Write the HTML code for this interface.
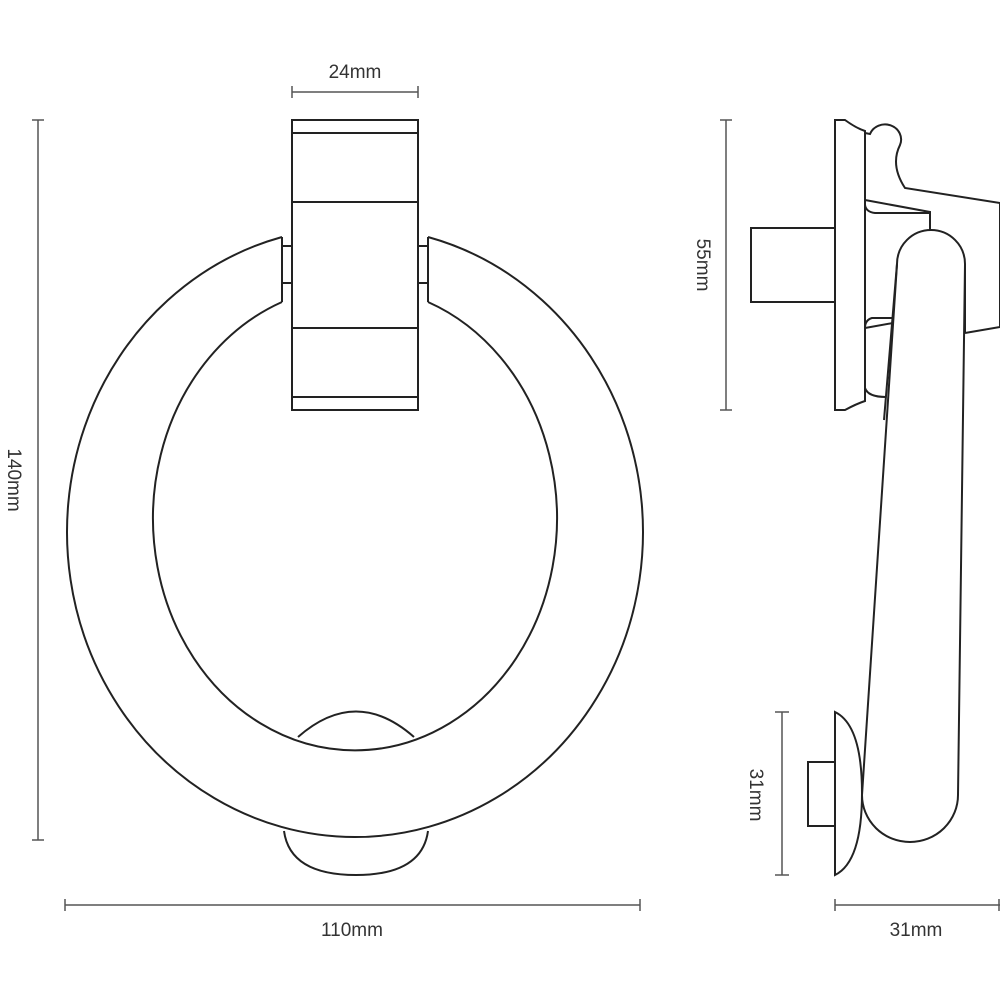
<!DOCTYPE html>
<html><head><style>
html,body{margin:0;padding:0;background:#fff;}
svg{display:block;}
text{font-family:"Liberation Sans",sans-serif;font-size:19px;fill:#333;}
</style></head><body>
<svg width="1000" height="1000" viewBox="0 0 1000 1000" xmlns="http://www.w3.org/2000/svg">
<g fill="none" stroke="#222" stroke-width="2">
  <path d="M282,237 A288,305 0 1,0 428,237"/>
  <path d="M282,302 A202,232 0 1,0 428,302" />
  <line x1="282" y1="237" x2="282" y2="302"/>
  <line x1="428" y1="237" x2="428" y2="302"/>
  <line x1="282" y1="246" x2="292" y2="246"/>
  <line x1="282" y1="283" x2="292" y2="283"/>
  <line x1="418" y1="246" x2="428" y2="246"/>
  <line x1="418" y1="283" x2="428" y2="283"/>
  <rect x="292" y="120" width="126" height="290" fill="#fff"/>
  <line x1="292" y1="133" x2="418" y2="133"/>
  <line x1="292" y1="202" x2="418" y2="202"/>
  <line x1="292" y1="328" x2="418" y2="328"/>
  <line x1="292" y1="397" x2="418" y2="397"/>
  <path d="M298,737 Q356,686 414,737"/>
  <path d="M284,831 Q290,875 356,875 Q422,875 428,831"/>

  <path d="M835,120 L845,120 Q856,128 865,131 L865,401 Q856,404 845,410 L835,410 Z"/>
  <rect x="751" y="228" width="84" height="74"/>
  <path d="M865,133 Q865,133 870,134 A16,15 0 0,1 900,145 Q890,165 905,188 L1000,203 L1000,327 L965,333"/>
  <path d="M865,200 L930,212 L930,230"/>
  <path d="M865,205 Q866,212 875,213 L930,213"/>
  <path d="M893,318 L872,318 Q865,320 865,328 L865,388 Q868,397 886,397"/>
  <path d="M865,328 L893,323"/>
  <path d="M884,420 L897,264 A34,34 0 0,1 965,264 L965,333" fill="#fff"/>
  <path d="M897,264 L862,795 A48,47 0 0,0 958,795 L965,264"/>
  <path d="M835,712 Q862,725 862,793 Q862,862 835,875 Z" fill="#fff"/>
  <rect x="808" y="762" width="27" height="64"/>
</g>
<g stroke="#555" stroke-width="1.5" fill="none">
  <line x1="292" y1="92" x2="418" y2="92"/><line x1="292" y1="86" x2="292" y2="98"/><line x1="418" y1="86" x2="418" y2="98"/>
  <line x1="38" y1="120" x2="38" y2="840"/><line x1="32" y1="120" x2="44" y2="120"/><line x1="32" y1="840" x2="44" y2="840"/>
  <line x1="65" y1="905" x2="640" y2="905"/><line x1="65" y1="899" x2="65" y2="911"/><line x1="640" y1="899" x2="640" y2="911"/>
  <line x1="726" y1="120" x2="726" y2="410"/><line x1="720" y1="120" x2="732" y2="120"/><line x1="720" y1="410" x2="732" y2="410"/>
  <line x1="782" y1="712" x2="782" y2="875"/><line x1="775" y1="712" x2="789" y2="712"/><line x1="775" y1="875" x2="789" y2="875"/>
  <line x1="835" y1="905" x2="1000" y2="905"/><line x1="835" y1="899" x2="835" y2="911"/><line x1="999" y1="899" x2="999" y2="911"/>
</g>
<text x="355" y="78" text-anchor="middle">24mm</text>
<text x="352" y="936" text-anchor="middle">110mm</text>
<text x="916" y="936" text-anchor="middle">31mm</text>
<text transform="translate(8,480) rotate(90)" text-anchor="middle">140mm</text>
<text transform="translate(697,265) rotate(90)" text-anchor="middle">55mm</text>
<text transform="translate(750,795) rotate(90)" text-anchor="middle">31mm</text>
</svg>
</body></html>
